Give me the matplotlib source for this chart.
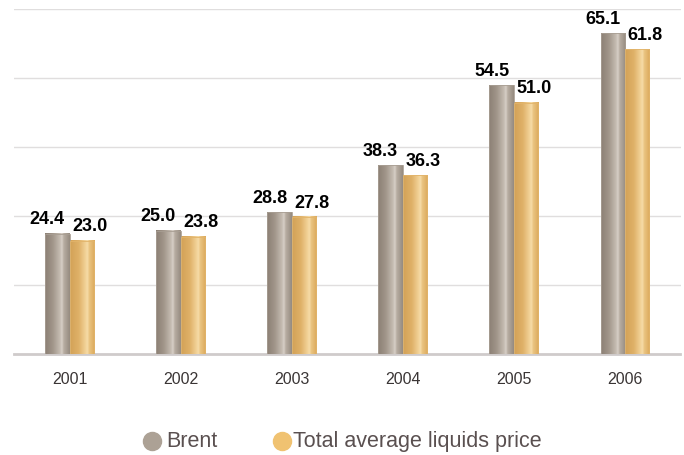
import matplotlib.pyplot as plt
import numpy as np
from matplotlib.colors import LinearSegmentedColormap
from matplotlib.lines import Line2D

plt.rcParams['font.family'] = ['Liberation Sans', 'DejaVu Sans']

years = ['2001', '2002', '2003', '2004', '2005', '2006']
brent = [24.4, 25.0, 28.8, 38.3, 54.5, 65.1]
liquids = [23.0, 23.8, 27.8, 36.3, 51.0, 61.8]

# --- shading for the cylinder-like bars ---
brent_cmap = LinearSegmentedColormap.from_list(
    'brent', [(0.0, '#8c8075'), (0.3, '#a09589'), (0.6, '#c4bbb1'),
              (0.68, '#d8d0c7'), (0.75, '#b9afa4'), (1.0, '#968b80')])
liq_cmap = LinearSegmentedColormap.from_list(
    'liq', [(0.0, '#d3a257'), (0.35, '#dfb168'), (0.62, '#f1d196'),
            (0.7, '#f6dca8'), (0.78, '#eac481'), (1.0, '#dba95c')])

grad = np.linspace(0, 1, 64).reshape(1, -1)
bar_w = 0.22


def shaded_bar(ax, x0, h, cmap, edge):
    ax.imshow(grad, cmap=cmap, aspect='auto', extent=(x0, x0 + bar_w, 0, h),
              zorder=3, interpolation='bilinear')
    ax.add_patch(plt.Rectangle((x0, 0), bar_w, h, fill=False, ec=edge,
                               lw=0.6, zorder=4))


fig = plt.figure(figsize=(6.84, 4.56), dpi=100)
ax = fig.add_axes([14 / 684, 1 - 355 / 456, 666.5 / 684, 345 / 456])

x = np.arange(len(years))
for i in x:
    shaded_bar(ax, i - bar_w, brent[i], brent_cmap, '#a89e93')
    shaded_bar(ax, i, liquids[i], liq_cmap, '#e2b46a')
    ax.text(i - bar_w / 2 - 0.09, brent[i] + 1.3, f'{brent[i]:.1f}',
            ha='center', va='bottom', fontsize=13, fontweight='bold',
            color='black', zorder=5)
    ax.text(i + bar_w / 2 + 0.07, liquids[i] + 1.3, f'{liquids[i]:.1f}',
            ha='center', va='bottom', fontsize=13, fontweight='bold',
            color='black', zorder=5)

ax.set_xlim(-0.5, 5.5)
ax.set_ylim(0, 70)
ax.set_yticks(np.arange(14, 71, 14))
ax.yaxis.grid(True, color='#e0dede', lw=1)
ax.set_axisbelow(True)
ax.tick_params(axis='y', left=False, labelleft=False)
ax.set_xticks(x)
ax.set_xticklabels(years, fontsize=11.5, color='#3a3535')
ax.tick_params(axis='x', length=0, pad=12)
for s in ['top', 'right', 'left']:
    ax.spines[s].set_visible(False)
ax.spines['bottom'].set_color('#cfcbcb')
ax.spines['bottom'].set_linewidth(2)

# legend drawn in figure coordinates
fig.add_artist(Line2D([152 / 684], [1 - 442 / 456], marker='o', ms=13,
                      color='#aca195', transform=fig.transFigure))
fig.text(166 / 684, 1 - 442 / 456, 'Brent', fontsize=15.5, color='#5a5050',
         va='center', ha='left')
fig.add_artist(Line2D([282 / 684], [1 - 442 / 456], marker='o', ms=13,
                      color='#f0c271', transform=fig.transFigure))
fig.text(293 / 684, 1 - 442 / 456, 'Total average liquids price', fontsize=15.5,
         color='#5a5050', va='center', ha='left')

fig.savefig('out.png', dpi=100)
